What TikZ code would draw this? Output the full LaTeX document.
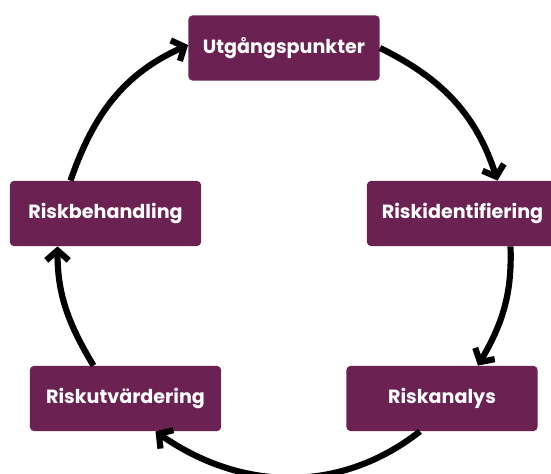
\documentclass[tikz,border=0pt]{standalone}
\usepackage{fontspec}
\setmainfont{Poppins}
\usepackage{xcolor}
\usepackage{tikz}
\usetikzlibrary{calc, arrows.meta, positioning}

\definecolor{plum}{HTML}{6B2151}

\begin{document}
\begin{tikzpicture}[x=0.025cm, y=0.025cm, font=\fontsize{13.6}{16}\selectfont\bfseries]
		\tikzstyle{phase} = [fill=plum, text=white, rectangle, rounded corners=3pt, minimum width=4.78cm, minimum height=1.63cm, inner sep=0pt]
		\tikzstyle{arrow} = [line width=4.4pt, -{Straight Barb[length=7pt, width=16pt]}]

		\useasboundingbox (0,0) rectangle (551,473);

		\node[phase]	at (284, 425)	(utg)	{Utgångspunkter};
		\node[phase]	at (462.5, 259.5)	(rid)	{Riskidentifiering};
		\node[phase]	at (442, 74.5)	(ran)	{Riskanalys};
		\node[phase]	at (125.5, 74.5)	(rut)	{Riskutvärdering};
		\node[phase]	at (105.5, 259.5)	(rbe)	{Riskbehandling};

		\draw [arrow] (utg.east) to[out=-26, in=108] ($(rid.north)+(35,0)$);
		\draw [arrow] ($(rid.south)+(48,0)$) to[out=-88, in=60] ($(ran.north)+(36,0)$);
		\draw [arrow] ($(ran.south)+(-22,0)$) to[out=-142, in=-35] ($(rut.south)+(30,0)$);
		\draw [arrow] ($(rut.north)+(-32,0)$) to[out=121, in=-90] ($(rbe.south)+(-48,0)$);
		\draw [arrow] ($(rbe.north)+(-35,0)$) to[out=71, in=-156] ($(utg.west)+(0,3)$);
	\end{tikzpicture}
\end{document}
